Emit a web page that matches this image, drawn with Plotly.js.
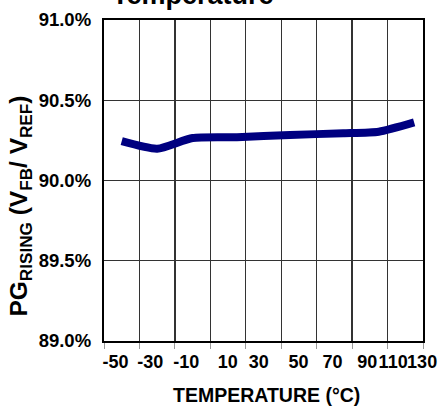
<!DOCTYPE html>
<html>
<head>
<meta charset="utf-8">
<script src="https://cdn.plot.ly/plotly-3.0.1.min.js"></script>
<style>html,body{margin:0;padding:0;background:#fff;}#chart{width:447px;height:411px;}</style>
</head>
<body>
<div id="chart"></div>
<script>
// Data
const temperature = [-40, -20, 0, 25, 55, 85, 105, 125];
const pgRising = [90.245, 90.198, 90.265, 90.270, 90.284, 90.294, 90.304, 90.362];

const xTickVals = [-50, -30, -10, 10, 30, 50, 70, 90, 110, 130];
const xTickText = ['-50', '-30', '-10', '10', '30', '50', '70', '90', '110', '130'];
const yTickVals = [89.0, 89.5, 90.0, 90.5, 91.0];
const yTickText = ['89.0%', '89.5%', '90.0%', '90.5%', '91.0%'];

// layout constant: label nudges (°C) mimicking the original label placement
const labelNudge = [6.5, 6.2, 6.5, 10, 7.6, 10, 9.3, 9, 3.6, 0];

const font = 'Arial, "Liberation Sans", sans-serif';

const trace = {
  x: temperature, y: pgRising, type: 'scatter', mode: 'lines',
  line: {color: '#000080', width: 8, shape: 'spline', smoothing: 0.6}, hoverinfo: 'skip', showlegend: false
};
const dummy = {x: [-50, 130], y: [89, 89], xaxis: 'x2', mode: 'markers',
  marker: {opacity: 0}, showlegend: false, hoverinfo: 'skip'};

const layout = {
  width: 447, height: 411,
  margin: {l: 103.5, r: 24, t: 20, b: 70, pad: 0},
  paper_bgcolor: '#fff', plot_bgcolor: '#fff',
  xaxis: {
    range: [-50, 130], tickvals: xTickVals, showticklabels: false,
    ticks: 'outside', ticklen: 6, tickwidth: 1, tickcolor: '#999',
    showgrid: true, gridcolor: '#333', gridwidth: 1.3,
    showline: true, mirror: true, linecolor: '#000', linewidth: 2.2,
    zeroline: false
  },
  xaxis2: {
    overlaying: 'x', anchor: 'y', side: 'bottom', range: [-50, 130.5],
    tickvals: xTickVals.map((v, i) => v + labelNudge[i]), ticktext: xTickText,
    ticks: '', showgrid: false, showline: false, zeroline: false,
    tickangle: 0, automargin: false, ticklabelstandoff: 8,
    tickfont: {family: font, size: 18, color: '#000', weight: 'bold'}
  },
  yaxis: {
    range: [89, 91], tickvals: yTickVals, ticktext: yTickText,
    ticks: '', showgrid: true, gridcolor: '#333', gridwidth: 1.3,
    showline: true, mirror: true, linecolor: '#000', linewidth: 2.2,
    zeroline: false, ticklabelstandoff: 7, automargin: false,
    tickfont: {family: font, size: 18.5, color: '#000', weight: 'bold'}
  },
  annotations: [
    {text: 'Temperature', xref: 'paper', yref: 'paper', x: 0.28, y: 1.025,
     xanchor: 'center', yanchor: 'bottom', showarrow: false,
     font: {family: font, size: 27, color: '#000', weight: 'bold'}},
    {text: 'TEMPERATURE (°C)', xref: 'paper', yref: 'paper', x: 0.51, y: -0.168,
     xanchor: 'center', yanchor: 'middle', showarrow: false,
     font: {family: font, size: 19.5, color: '#000', weight: 'bold'}},
    {text: 'PG<sub>RISING</sub> (V<sub>FB</sub>/ V<sub>REF</sub>)', xref: 'paper', yref: 'paper',
     x: -0.262, y: 0.42, xanchor: 'center', yanchor: 'middle', textangle: -90, showarrow: false,
     font: {family: font, size: 24.5, color: '#000', weight: 'bold'}}
  ]
};

Plotly.newPlot('chart', [trace, dummy], layout, {displayModeBar: false, staticPlot: true});
</script>
</body>
</html>
